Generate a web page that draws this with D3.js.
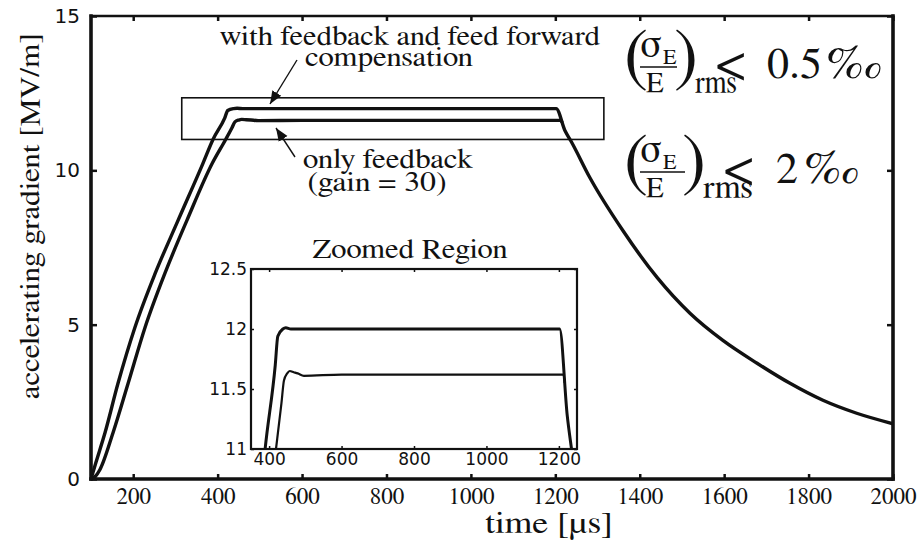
<!DOCTYPE html>
<html>
<head>
<meta charset="utf-8">
<script src="https://cdn.jsdelivr.net/npm/d3@7"></script>
<style>
  html, body { margin: 0; padding: 0; background: #fff; }
  svg { display: block; }
</style>
</head>
<body>
<svg id="chart" width="920" height="541"></svg>
<script>
// ---------------- data ----------------
// with feedback and feed forward compensation
const ffTime = [100, 112, 133, 164, 204, 252, 306, 365, 389, 417, 424, 438, 446, 460, 600, 800, 1000, 1202, 1223, 1237, 1282, 1360, 1441, 1519, 1597, 1678, 1756, 1834, 1914, 2000];
const ffGrad = [0, 0.55, 1.49, 3.10, 4.91, 6.66, 8.37, 10.22, 11.0, 11.70, 11.94, 12.0, 12.01, 12.0, 12.0, 12.0, 12.0, 12.0, 11.28, 10.95, 9.76, 8.05, 6.53, 5.37, 4.49, 3.75, 3.10, 2.55, 2.13, 1.79];
// only feedback (gain = 30)
const fbTime = [100, 110, 121, 152, 188, 228, 275, 327, 387, 419, 434, 441, 450, 457, 468, 479, 496, 600, 800, 1000, 1213, 1216];
const fbGrad = [0, 0.08, 0.3, 1.49, 3.10, 4.91, 6.66, 8.37, 10.22, 11.0, 11.38, 11.57, 11.63, 11.65, 11.64, 11.63, 11.61, 11.62, 11.62, 11.62, 11.62, 11.55];

const xTicks = [200, 400, 600, 800, 1000, 1200, 1400, 1600, 1800, 2000];
const yTicks = [0, 5, 10, 15];
const insetXTicks = [400, 600, 800, 1000, 1200];
const insetYTicks = [11, 11.5, 12, 12.5];
const zoomBox = {t0: 315, t1: 1315, g0: 11, g1: 12.35};

const svg = d3.select("#chart");
const SERIF = '"FreeSerif", "Liberation Serif", "Times New Roman", serif';
const SANS = '"DejaVu Sans"';

// ---------------- layout ----------------
const M = {left: 91, right: 893, top: 16, bottom: 479};
const I = {left: 251, right: 577, top: 269, bottom: 449};

const x = d3.scaleLinear().domain([100, 2000]).range([M.left, M.right]);
const y = d3.scaleLinear().domain([0, 15]).range([M.bottom, M.top]);
const xi = d3.scaleLinear().domain([350, 1250]).range([I.left, I.right]);
const yi = d3.scaleLinear().domain([11, 12.5]).range([I.bottom, I.top]);

const ff = ffTime.map((t, i) => [t, ffGrad[i]]);
const fb = fbTime.map((t, i) => [t, fbGrad[i]]);

function serifText(sel, size) {
  return sel.attr("font-family", null).style("font-family", SERIF)
    .style("font-size", size + "px").attr("fill", "#111");
}
function sansText(sel, size) {
  return sel.attr("font-family", null).style("font-family", SANS)
    .style("font-size", size + "px").attr("fill", "#111");
}

// defs
const defs = svg.append("defs");
defs.append("clipPath").attr("id", "mainClip").append("rect")
  .attr("x", M.left).attr("y", M.top).attr("width", M.right - M.left).attr("height", M.bottom - M.top);
defs.append("clipPath").attr("id", "insetClip").append("rect")
  .attr("x", I.left).attr("y", I.top).attr("width", I.right - I.left).attr("height", I.bottom - I.top);
defs.append("marker").attr("id", "arrow").attr("viewBox", "0 0 10 10")
  .attr("refX", 10).attr("refY", 5).attr("markerWidth", 13).attr("markerHeight", 13)
  .attr("markerUnits", "userSpaceOnUse").attr("orient", "auto")
  .append("path").attr("d", "M0,1 L10,5 L0,9 Z").attr("fill", "#111");

// ---------------- main curves ----------------
const line = d3.line().x(d => x(d[0])).y(d => y(d[1])).curve(d3.curveMonotoneX);
const gMain = svg.append("g").attr("clip-path", "url(#mainClip)");
gMain.append("path").datum(fb).attr("d", line).attr("fill", "none")
  .attr("stroke", "#111").attr("stroke-width", 3.4).attr("stroke-linejoin", "round");
gMain.append("path").datum(ff).attr("d", line).attr("fill", "none")
  .attr("stroke", "#111").attr("stroke-width", 3.4).attr("stroke-linejoin", "round");

// zoom rectangle
svg.append("rect")
  .attr("x", x(zoomBox.t0)).attr("y", y(zoomBox.g1))
  .attr("width", x(zoomBox.t1) - x(zoomBox.t0)).attr("height", y(zoomBox.g0) - y(zoomBox.g1))
  .attr("fill", "none").attr("stroke", "#111").attr("stroke-width", 1.6);

// ---------------- main axes ----------------
const axB = svg.append("g").attr("transform", `translate(0,${M.bottom})`)
  .call(d3.axisBottom(x).tickValues(xTicks).tickSizeInner(-5).tickSizeOuter(0).tickPadding(9)
    .tickFormat(d3.format("d")));
axB.attr("font-family", null);
serifText(axB.selectAll(".tick text"), 23);
const axT = svg.append("g").attr("transform", `translate(0,${M.top})`)
  .call(d3.axisTop(x).tickValues(xTicks).tickSizeInner(-5).tickSizeOuter(0).tickFormat(""));
const axL = svg.append("g").attr("transform", `translate(${M.left},0)`)
  .call(d3.axisLeft(y).tickValues(yTicks).tickSizeInner(-6).tickSizeOuter(0).tickPadding(11));
axL.attr("font-family", null);
sansText(axL.selectAll(".tick text"), 20);
const axR = svg.append("g").attr("transform", `translate(${M.right},0)`)
  .call(d3.axisRight(y).tickValues(yTicks).tickSizeInner(-6).tickSizeOuter(0).tickFormat(""));
[axB, axT, axL, axR].forEach(g => {
  g.select(".domain").remove();
  g.selectAll(".tick line").attr("stroke", "#111").attr("stroke-width", 2.5);
});

// frame
const frame = svg.append("g").attr("stroke", "#111").attr("fill", "none").attr("stroke-linecap", "square");
frame.append("line").attr("x1", M.left).attr("x2", M.right).attr("y1", M.top).attr("y2", M.top).attr("stroke-width", 2.6);
frame.append("line").attr("x1", M.left).attr("x2", M.right).attr("y1", M.bottom).attr("y2", M.bottom).attr("stroke-width", 3.6);
frame.append("line").attr("x1", M.left).attr("x2", M.left).attr("y1", M.top).attr("y2", M.bottom).attr("stroke-width", 3.6);
frame.append("line").attr("x1", M.right).attr("x2", M.right).attr("y1", M.top).attr("y2", M.bottom).attr("stroke-width", 3.6);

// axis titles
serifText(svg.append("text"), 27)
  .attr("transform", "translate(39,216) rotate(-90)")
  .attr("text-anchor", "middle")
  .attr("textLength", 366).attr("lengthAdjust", "spacingAndGlyphs")
  .text("accelerating gradient [MV/m]");
serifText(svg.append("text"), 30)
  .attr("x", 549).attr("y", 533).attr("text-anchor", "middle")
  .attr("textLength", 128).attr("lengthAdjust", "spacingAndGlyphs")
  .text("time [\u00B5s]");

// ---------------- inset ----------------
svg.append("rect").attr("x", I.left).attr("y", I.top)
  .attr("width", I.right - I.left).attr("height", I.bottom - I.top).attr("fill", "#fff");
const lineI = d3.line().x(d => xi(d[0])).y(d => yi(d[1])).curve(d3.curveMonotoneX);
const gIn = svg.append("g").attr("clip-path", "url(#insetClip)");
gIn.append("path").datum(fb).attr("d", lineI).attr("fill", "none")
  .attr("stroke", "#111").attr("stroke-width", 2.2).attr("stroke-linejoin", "round");
gIn.append("path").datum(ff).attr("d", lineI).attr("fill", "none")
  .attr("stroke", "#111").attr("stroke-width", 3).attr("stroke-linejoin", "round");

const iB = svg.append("g").attr("transform", `translate(0,${I.bottom})`)
  .call(d3.axisBottom(xi).tickValues(insetXTicks).tickSizeInner(-3).tickSizeOuter(0).tickPadding(4)
    .tickFormat(d3.format("d")));
const iL = svg.append("g").attr("transform", `translate(${I.left},0)`)
  .call(d3.axisLeft(yi).tickValues(insetYTicks).tickSizeInner(-3).tickSizeOuter(0).tickPadding(4)
    .tickFormat(d3.format("~g")));
const iT = svg.append("g").attr("transform", `translate(0,${I.top})`)
  .call(d3.axisTop(xi).tickValues(insetXTicks).tickSizeInner(-3).tickSizeOuter(0).tickFormat(""));
const iR = svg.append("g").attr("transform", `translate(${I.right},0)`)
  .call(d3.axisRight(yi).tickValues(insetYTicks).tickSizeInner(-3).tickSizeOuter(0).tickFormat(""));
[iB, iL, iT, iR].forEach(g => {
  g.attr("font-family", null);
  g.select(".domain").remove();
  g.selectAll(".tick line").attr("stroke", "#111").attr("stroke-width", 1.5);
  sansText(g.selectAll(".tick text"), 17);
});
svg.append("rect").attr("x", I.left).attr("y", I.top)
  .attr("width", I.right - I.left).attr("height", I.bottom - I.top)
  .attr("fill", "none").attr("stroke", "#111").attr("stroke-width", 2.2);
serifText(svg.append("text"), 27).attr("x", 410).attr("y", 258)
  .attr("text-anchor", "middle")
  .attr("textLength", 195).attr("lengthAdjust", "spacingAndGlyphs")
  .text("Zoomed Region");

// ---------------- annotations ----------------
function label(txt, cx, by, size, len) {
  serifText(svg.append("text"), size).attr("x", cx).attr("y", by)
    .attr("text-anchor", "middle")
    .attr("textLength", len).attr("lengthAdjust", "spacingAndGlyphs").text(txt);
}
label("with feedback and feed forward", 410, 45, 27, 380);
label("compensation", 389, 66, 27, 168);
label("only feedback", 388, 168, 27, 170);
label("(gain = 30)", 377, 191, 27, 139);

svg.append("line").attr("x1", 297).attr("y1", 60).attr("x2", 270).attr("y2", 104)
  .attr("stroke", "#111").attr("stroke-width", 1.4).attr("marker-end", "url(#arrow)");
svg.append("line").attr("x1", 295).attr("y1", 157).attr("x2", 276).attr("y2", 128)
  .attr("stroke", "#111").attr("stroke-width", 1.4).attr("marker-end", "url(#arrow)");

// rms formulas
function formula(T, dx, value, valX, pmX, pmLen) {
  const g = svg.append("g");
  const t = (s, xx, yy, size) => serifText(g.append("text"), size).attr("x", xx).attr("y", yy).text(s);
  t("(", 624, T + 51, 72);
  t("\u03C3", 640, T + 30, 40);
  t("E", 663, T + 37, 22);
  g.append("line").attr("x1", 640).attr("x2", 677 + dx).attr("y1", T + 40).attr("y2", T + 40)
    .attr("stroke", "#111").attr("stroke-width", 1.5);
  t("E", 646, T + 65, 29);
  t(")", 674 + dx, T + 51, 72);
  t("rms", 695 + dx, T + 66, 33).attr("textLength", 42 + dx).attr("lengthAdjust", "spacingAndGlyphs");
  t("<", 716 + dx, T + 53, 52);
  t(value, valX, T + 51, 44);
  t("\u2030", pmX, T + 51, 44).style("font-style", "italic")
    .attr("textLength", pmLen).attr("lengthAdjust", "spacingAndGlyphs");
}
formula(27, 0, "0.5", 767, 827, 53);
formula(132, 8, "2", 776, 805, 52);
</script>
</body>
</html>
